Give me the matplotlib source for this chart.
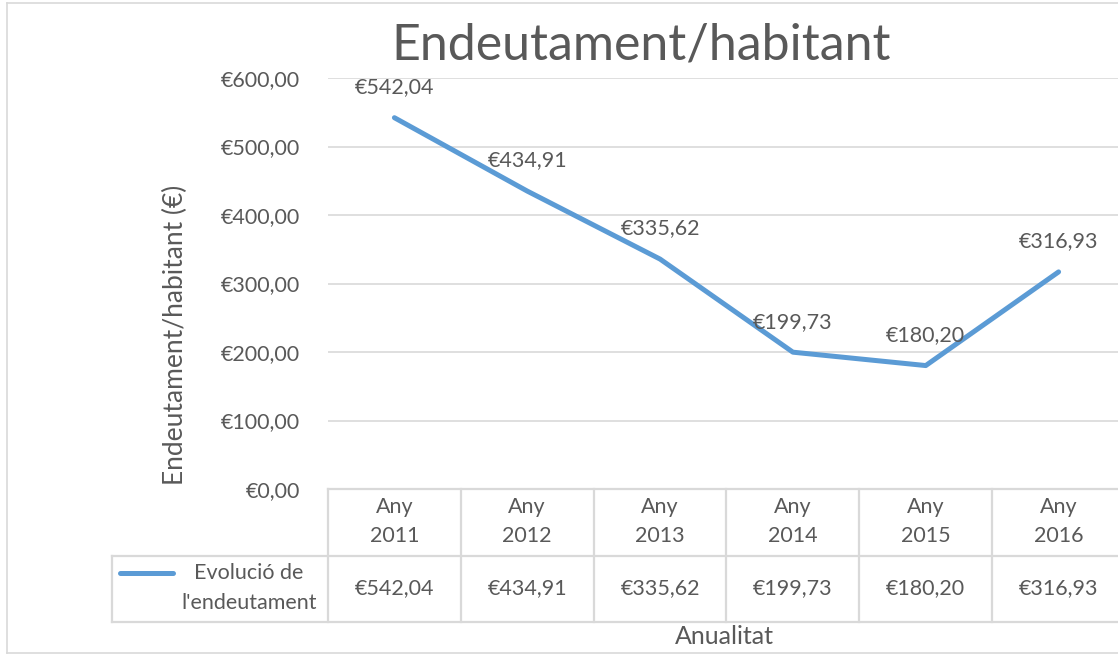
import matplotlib.pyplot as plt
import matplotlib.transforms as mtransforms
from matplotlib.lines import Line2D

plt.rcParams['font.family'] = ['Lato', 'DejaVu Sans']

years = ['Any\n2011', 'Any\n2012', 'Any\n2013', 'Any\n2014', 'Any\n2015', 'Any\n2016']
values = [542.04, 434.91, 335.62, 199.73, 180.20, 316.93]
y_ticks = [0, 100, 200, 300, 400, 500, 600]

blue = '#5B9BD5'
grid = '#D9D9D9'
txt = '#595959'
fs = 15.5

W, H = 1118, 655
fig = plt.figure(figsize=(W / 100, H / 100), dpi=100)


def fy(py):
    # pixel row from top -> figure fraction
    return 1 - py / H


def fx(px):
    return px / W


def eur(v):
    return '€' + f'{v:.2f}'.replace('.', ',')


ax = fig.add_axes([fx(328), fy(489), 797 / W, (489 - 78) / H])
x = list(range(len(values)))
ax.plot(x, values, color=blue, lw=3.6, solid_capstyle='round', zorder=3)
ax.set_xlim(-0.5, len(values) - 0.5)
ax.set_ylim(0, 600)
ax.set_yticks(y_ticks)
ax.set_yticklabels([eur(v) for v in y_ticks], fontsize=fs, color=txt)
ax.set_xticks([])
ax.tick_params(axis='y', length=0, pad=20)
for s in ax.spines.values():
    s.set_visible(False)
for t in y_ticks[1:]:
    ax.axhline(t, color=grid, lw=1.2, zorder=1)

for xi, v in zip(x, values):
    ax.annotate(eur(v), (xi, v), xytext=(0, 22),
                textcoords='offset points', ha='center', va='center',
                fontsize=fs, color=txt)

# data table
tr = mtransforms.blended_transform_factory(ax.transData, fig.transFigure)
lw = 1.6
fig.add_artist(Line2D([fx(328), 1], [fy(489), fy(489)], color=grid, lw=lw))
fig.add_artist(Line2D([fx(112), 1], [fy(556), fy(556)], color=grid, lw=lw))
fig.add_artist(Line2D([fx(112), 1], [fy(622), fy(622)], color=grid, lw=lw))
fig.add_artist(Line2D([fx(112), fx(112)], [fy(556), fy(622)], color=grid, lw=lw))
for b in range(len(values)):
    fig.add_artist(Line2D([b - 0.5, b - 0.5], [fy(489), fy(622)], color=grid,
                          lw=lw, transform=tr))
for xi, (lab, v) in enumerate(zip(years, values)):
    fig.text(xi, fy(521.5), lab, transform=tr, ha='center', va='center',
             fontsize=fs, color=txt, linespacing=1.62)
    fig.text(xi, fy(588), eur(v), transform=tr,
             ha='center', va='center', fontsize=fs, color=txt)

# legend key inside table
fig.add_artist(Line2D([fx(120), fx(173)], [fy(573), fy(573)], color=blue, lw=3.6,
                      solid_capstyle='round'))
fig.text(fx(249), fy(588), "Evolució de\nl'endeutament", ha='center', va='center',
         fontsize=fs, color=txt, linespacing=1.65)

# titles
fig.text(fx(641), fy(45), 'Endeutament/habitant', ha='center', va='center',
         fontsize=36, color=txt)
fig.text(fx(175), fy(335), 'Endeutament/habitant (€)', ha='center', va='center',
         rotation=90, fontsize=19, color=txt)
fig.text(fx(724), fy(636), 'Anualitat', ha='center', va='center',
         fontsize=18, color=txt)

# chart border
fig.add_artist(Line2D([fx(7), fx(7)], [fy(3), fy(653)], color=grid, lw=1.2))
fig.add_artist(Line2D([fx(7), 1], [fy(653), fy(653)], color=grid, lw=1.2))
fig.add_artist(Line2D([fx(7), 1], [fy(3), fy(3)], color=grid, lw=1.2))

fig.savefig('out.png', dpi=100)
